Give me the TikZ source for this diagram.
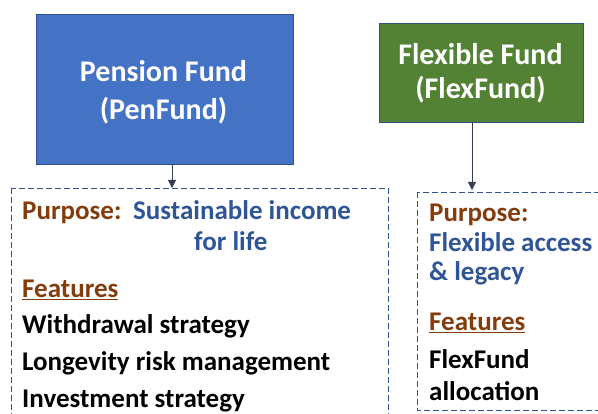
\documentclass[tikz,border=0pt]{standalone}
\usepackage{fontspec}
\setmainfont{Carlito}
\usetikzlibrary{arrows.meta}
\definecolor{penblue}{HTML}{4472C4}
\definecolor{penedge}{HTML}{2F528F}
\definecolor{flexgreen}{HTML}{548235}
\definecolor{brownt}{HTML}{843C0C}
\definecolor{bluet}{HTML}{2F5597}
\definecolor{dashc}{HTML}{2F5597}
\definecolor{arrowc}{HTML}{333F50}
\tikzset{
  fundbox/.style={draw=penedge, line width=0.8pt, inner sep=0pt},
  fundtxt/.style={anchor=base, inner sep=0pt, text=white, font=\bfseries\fontsize{30}{36}\selectfont},
  dashbox/.style={draw=dashc, dash pattern=on 6pt off 3pt, line width=0.9pt},
  txt/.style={anchor=base west, inner sep=0pt, font=\bfseries\fontsize{27}{32}\selectfont},
  conn/.style={draw=arrowc, line width=0.9pt, -{Triangle[length=8pt,width=8pt]}}
}
\begin{document}
\begin{tikzpicture}[x=1pt,y=-1pt]
\useasboundingbox (0,0) rectangle (598,414);
\begin{scope}
\clip (0,0) rectangle (598,414);
% dashed boxes
\draw[dashbox] (11,188) rectangle (388,430);
\draw[dashbox] (417,192) rectangle (610,410);
\coordinate (pentop) at (172,188);
\coordinate (flextop) at (472,190);
\end{scope}
% fund boxes
\node[fundbox, fill=penblue, minimum width=257pt, minimum height=150pt] (pen) at (164.5,89) {};
\node[fundtxt] (pen1) at (163.5,82) {Pension Fund};
\node[fundtxt] (pen2) at (163.5,120) {(PenFund)};
\node[fundbox, fill=flexgreen, minimum width=204pt, minimum height=99pt] (flex) at (481,72.5) {};
\node[fundtxt] (flex1) at (480.5,65) {Flexible Fund};
\node[fundtxt] (flex2) at (480.5,99) {(FlexFund)};
\draw[conn] (pen.south -| pentop) -- (pentop);
\draw[conn] (flex.south -| flextop) -- (flextop);
% left texts
\node[txt, text=brownt] (p1) at (22,220) {Purpose:};
\node[txt, text=bluet] (p1b) at (133,220) {Sustainable income};
\node[txt, text=bluet] (p1c) at (194,251) {for life};
\node[txt, text=brownt] (f1) at (22,298) {\underline{Features}};
\node[txt] (w1) at (22,334) {Withdrawal strategy};
\node[txt] (l1) at (22,371) {Longevity risk management};
\node[txt] (i1) at (22,408) {Investment strategy};
% right texts
\node[txt, text=brownt] (p2) at (429,222) {Purpose:};
\node[txt, text=bluet] (p2b) at (429,252) {Flexible access};
\node[txt, text=bluet] (p2c) at (429,281) {\& legacy};
\node[txt, text=brownt] (f2) at (429,331) {\underline{Features}};
\node[txt] (a2) at (429,369) {FlexFund};
\node[txt] (a3) at (429,401) {allocation};
\end{tikzpicture}
\end{document}
